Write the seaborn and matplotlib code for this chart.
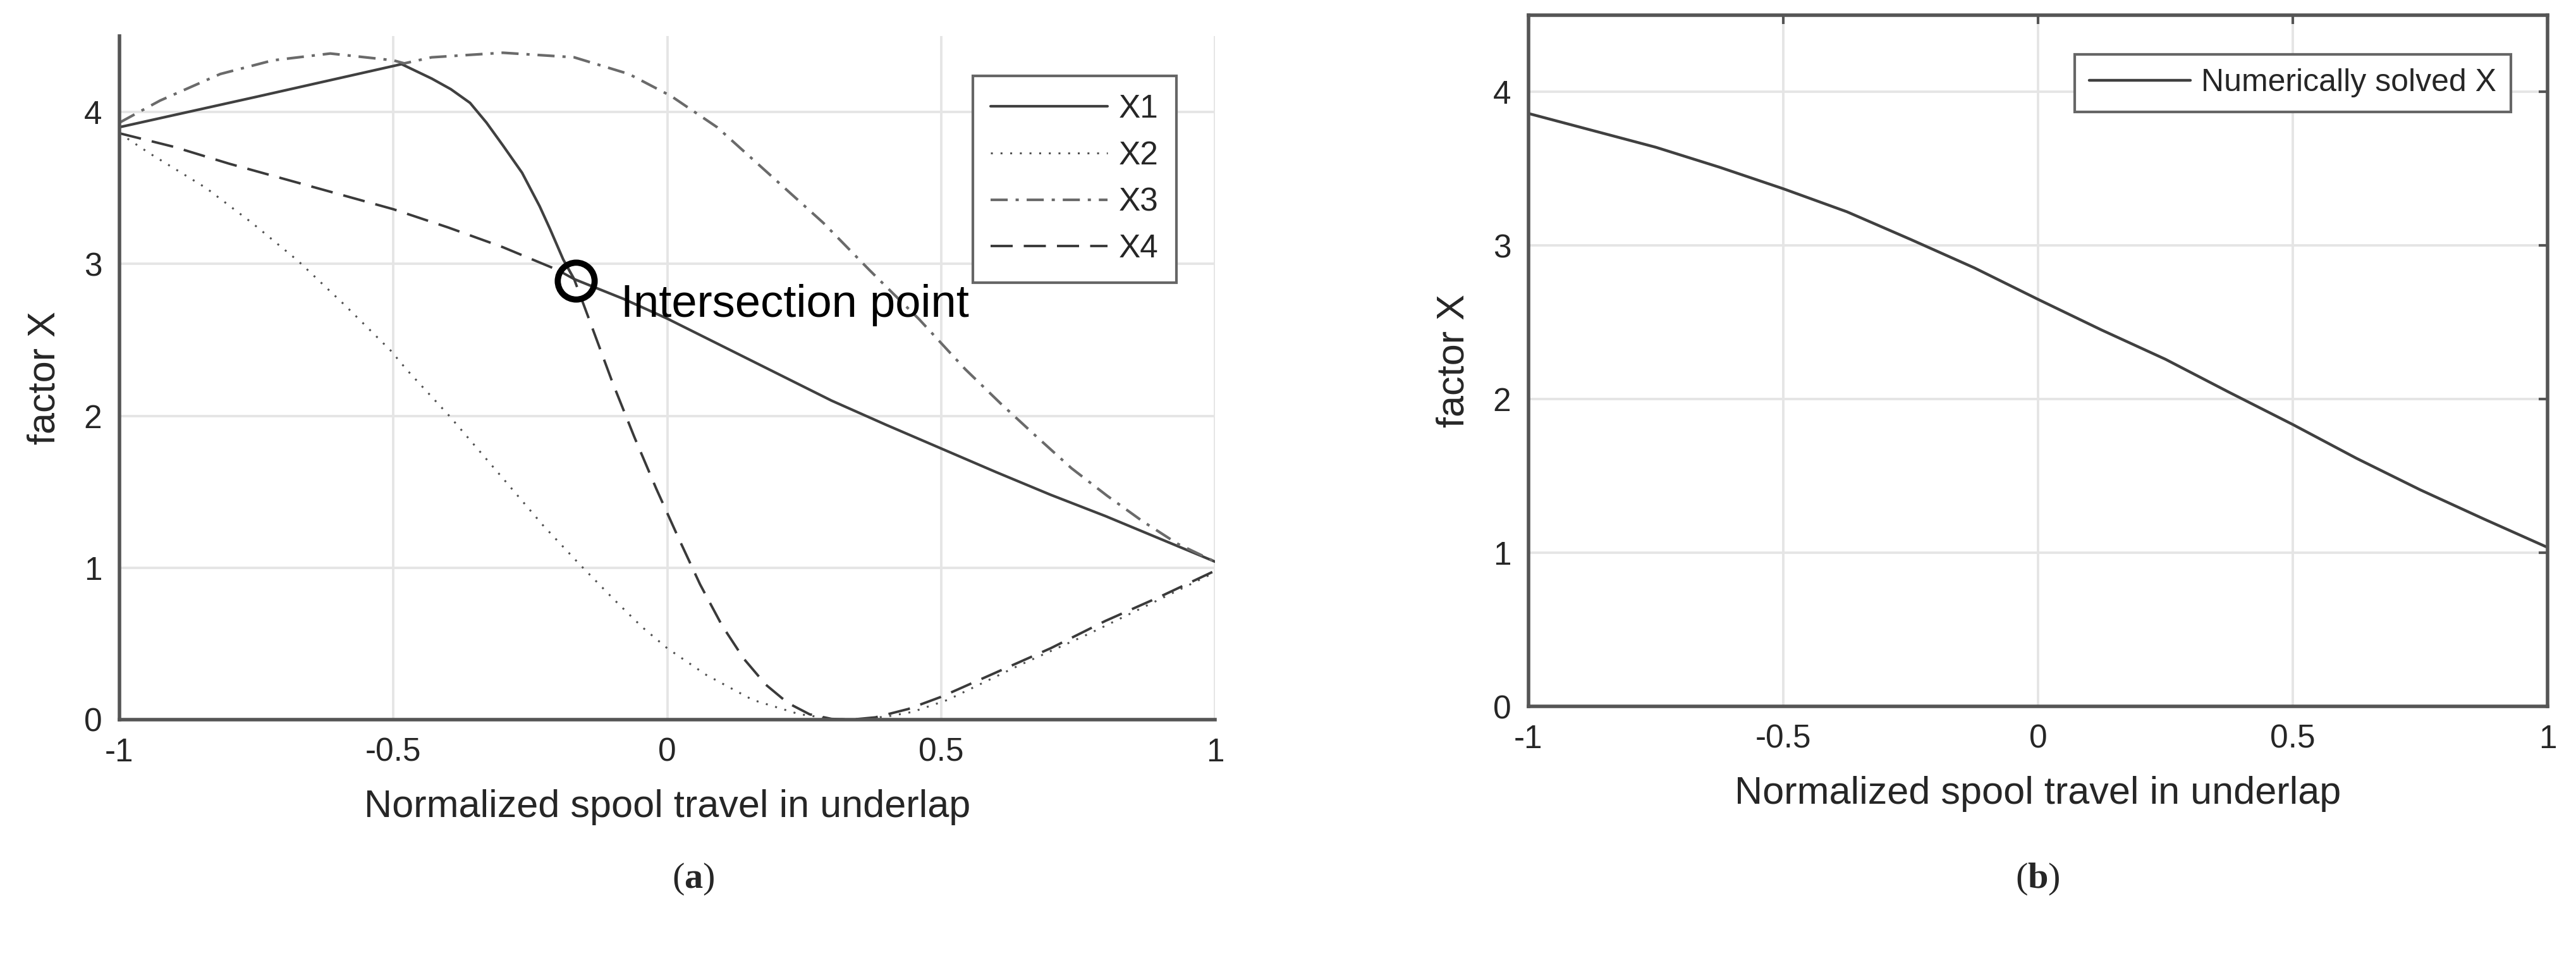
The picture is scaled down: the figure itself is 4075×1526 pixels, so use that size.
"""
plot.py - factor X versus normalized spool travel (panels a and b)
"""
import matplotlib
matplotlib.use("Agg")
import matplotlib.pyplot as plt
import seaborn as sns

sns.set_style("white")
plt.rcParams['font.family'] = ['Liberation Sans', 'DejaVu Sans']
plt.rcParams['axes.unicode_minus'] = False
plt.rcParams['mathtext.fontset'] = 'custom'
plt.rcParams['mathtext.rm'] = 'Liberation Serif'
plt.rcParams['mathtext.bf'] = 'Liberation Serif:bold'

# ------------------------------------------------------------------ data (a)
X1_X = [-1.0, -0.75, -0.485, -0.43, -0.395, -0.36, -0.33, -0.30, -0.265, -0.233,
        -0.214, -0.19, -0.17, -0.08, 0.0, 0.1, 0.2, 0.3, 0.4, 0.5, 0.6, 0.7, 0.8, 0.9, 1.0]
X1_Y = [3.90, 4.10, 4.315, 4.22, 4.15, 4.06, 3.93, 3.78, 3.60, 3.38,
        3.23, 3.03, 2.90, 2.77, 2.64, 2.46, 2.28, 2.10, 1.94, 1.785, 1.63, 1.48, 1.34, 1.19, 1.04]

X2_X = [-1.0, -0.946, -0.842, -0.758, -0.674, -0.589, -0.505, -0.476, -0.398, -0.298,
        -0.227, -0.162, -0.097, -0.046, 0.0, 0.071, 0.156, 0.24, 0.30, 0.34, 0.40,
        0.447, 0.512, 0.641, 0.771, 0.9, 1.0]
X2_Y = [3.86, 3.73, 3.50, 3.27, 3.02, 2.73, 2.43, 2.305, 2.0, 1.58,
        1.28, 1.03, 0.79, 0.61, 0.47, 0.295, 0.13, 0.037, 0.005, 0.0, 0.02,
        0.05, 0.13, 0.355, 0.567, 0.794, 0.97]

X3_X = [-1.0, -0.926, -0.816, -0.72, -0.615, -0.5, -0.48, -0.43, -0.30, -0.17, -0.07,
        0.007, 0.091, 0.188, 0.285, 0.369, 0.46, 0.544, 0.609, 0.673, 0.738, 0.803,
        0.867, 0.932, 1.0]
X3_Y = [3.93, 4.075, 4.25, 4.34, 4.385, 4.34, 4.32, 4.36, 4.39, 4.36, 4.25,
        4.105, 3.90, 3.585, 3.27, 2.96, 2.635, 2.307, 2.08, 1.867, 1.655, 1.474,
        1.308, 1.157, 1.04]

X4_X = [-1.0, -0.9, -0.8, -0.7, -0.6, -0.5, -0.4, -0.3, -0.2, -0.17, -0.14, -0.10,
        -0.06, -0.02, 0.02, 0.06, 0.10, 0.14, 0.18, 0.22, 0.26, 0.30, 0.335, 0.38,
        0.44, 0.5, 0.6, 0.7, 0.8, 0.9, 1.0]
X4_Y = [3.86, 3.77, 3.66, 3.56, 3.46, 3.36, 3.24, 3.11, 2.96, 2.90, 2.61, 2.22,
        1.86, 1.52, 1.20, 0.89, 0.62, 0.40, 0.23, 0.11, 0.035, 0.005, 0.0, 0.015,
        0.07, 0.15, 0.31, 0.47, 0.65, 0.81, 0.98]

INTERSECT_X = [-0.167]
INTERSECT_Y = [2.89]

# ------------------------------------------------------------------ data (b)
NUM_X = [-1.0, -0.875, -0.75, -0.625, -0.5, -0.375, -0.25, -0.125, 0.0,
         0.125, 0.25, 0.375, 0.5, 0.625, 0.75, 0.875, 1.0]
NUM_Y = [3.86, 3.75, 3.64, 3.51, 3.37, 3.22, 3.04, 2.855, 2.65,
         2.45, 2.26, 2.045, 1.835, 1.615, 1.41, 1.22, 1.035]

XTICKS = [-1, -0.5, 0, 0.5, 1]
XTICKLABELS = ['-1', '-0.5', '0', '0.5', '1']
YTICKS = [0, 1, 2, 3, 4]

TXT = '#262626'
AXC = '#555555'
GRID = '#e5e5e5'


def style_axes(ax, box):
    ax.set_xlim(-1, 1)
    ax.set_ylim(0, 4.5)
    ax.set_xticks(XTICKS)
    ax.set_xticklabels(XTICKLABELS)
    ax.set_yticks(YTICKS)
    ax.grid(True, color=GRID, linewidth=1.4)
    ax.set_axisbelow(True)
    for side in ['left', 'bottom', 'top', 'right']:
        ax.spines[side].set_color(AXC)
        ax.spines[side].set_linewidth(2.0)
        if not box and side in ('top', 'right'):
            ax.spines[side].set_visible(False)
    ax.tick_params(direction='in', length=5, width=1.5, color=AXC,
                   labelsize=18.5, labelcolor=TXT, pad=10,
                   top=box, right=box)
    ax.set_xlabel("Normalized spool travel in underlap", fontsize=22, color=TXT, labelpad=12)
    ax.set_ylabel("factor X", fontsize=22, color=TXT, labelpad=12)


def main():
    fig = plt.figure(figsize=(20.375, 7.63), dpi=200)
    ax_a = fig.add_axes([0.04638, 0.25426, 0.42528, 0.70839])
    ax_b = fig.add_axes([0.59337, 0.26802, 0.39558, 0.71625])

    # ---------------------------------------------------------- panel (a)
    sns.lineplot(x=X1_X, y=X1_Y, ax=ax_a, color='#404040', linewidth=1.5, label='X1')
    sns.lineplot(x=X2_X, y=X2_Y, ax=ax_a, color='#505050', linewidth=1.1, label='X2')
    ax_a.lines[-1].set_dashes((1, 4))
    sns.lineplot(x=X3_X, y=X3_Y, ax=ax_a, color='#6a6a6a', linewidth=1.5, label='X3')
    ax_a.lines[-1].set_dashes((6.5, 3, 1.2, 3))
    sns.lineplot(x=X4_X, y=X4_Y, ax=ax_a, color='#3a3a3a', linewidth=1.4, label='X4')
    ax_a.lines[-1].set_dashes((9, 4.5))

    ax_a.plot(INTERSECT_X, INTERSECT_Y, linestyle='none', marker='o', markersize=21,
              markerfacecolor='none', markeredgecolor='black', markeredgewidth=3.5)
    ax_a.text(-0.085, 2.65, "Intersection point", fontsize=26, color='black',
              va='baseline', ha='left')

    style_axes(ax_a, box=False)
    ax_a.legend(loc='upper right', bbox_to_anchor=(0.9648, 0.9417), borderaxespad=0,
                fontsize=18.5, handlelength=3.6, handletextpad=0.35, labelspacing=0.48,
                borderpad=0.55, fancybox=False, framealpha=1, edgecolor='#666666')
    ax_a.get_legend().get_frame().set_linewidth(1.5)

    # ---------------------------------------------------------- panel (b)
    sns.lineplot(x=NUM_X, y=NUM_Y, ax=ax_b, color='#404040', linewidth=1.6,
                 label='Numerically solved X')
    style_axes(ax_b, box=True)
    ax_b.legend(loc='upper right', bbox_to_anchor=(0.964, 0.9437), borderaxespad=0,
                fontsize=18, handlelength=3.2, handletextpad=0.35, borderpad=0.45,
                fancybox=False, framealpha=1, edgecolor='#666666')
    ax_b.get_legend().get_frame().set_linewidth(1.5)

    # sub-captions
    fig.text(1097 / 4075, 1 - 1390 / 1526, r"($\mathbf{a}$)", fontsize=21,
             family='Liberation Serif', ha='center', va='center')
    fig.text(3223 / 4075, 1 - 1390 / 1526, r"($\mathbf{b}$)", fontsize=21,
             family='Liberation Serif', ha='center', va='center')

    fig.savefig("out.png", dpi=200)
    plt.close(fig)


if __name__ == "__main__":
    main()
